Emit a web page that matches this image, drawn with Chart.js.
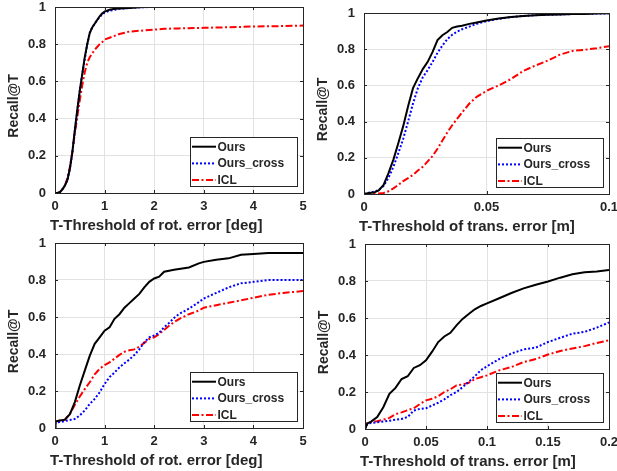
<!DOCTYPE html>
<html>
<head>
<meta charset="utf-8">
<script src="https://cdn.jsdelivr.net/npm/chart.js@4.4.1/dist/chart.umd.min.js"></script>
<style>
  html, body { margin: 0; padding: 0; background: #fff; }
  body { width: 617px; height: 471px; position: relative; overflow: hidden; }
  canvas { position: absolute; }
</style>
</head>
<body>
<canvas id="topRot" width="310" height="235" style="left:0;top:0"></canvas>
<canvas id="topTrans" width="307" height="235" style="left:310px;top:0"></canvas>
<canvas id="botRot" width="310" height="236" style="left:0;top:235px"></canvas>
<canvas id="botTrans" width="307" height="236" style="left:310px;top:235px"></canvas>
<script>
/* ── Data ── */
const seriesLabels = ['Ours', 'Ours_cross', 'ICL'];
const recallTicks = [0, 0.2, 0.4, 0.6, 0.8, 1];
const rotTicks = [0, 1, 2, 3, 4, 5];
const transTicksTop = [0, 0.05, 0.1];
const transTicksBot = [0, 0.05, 0.1, 0.15, 0.2];

// top-left: rotation error
const topRotX     = [0,0.05,0.1,0.15,0.2,0.25,0.3,0.35,0.4,0.45,0.5,0.55,0.6,0.65,0.7,0.75,0.8,0.85,0.9,0.95,1.0,1.1,1.2,1.3,1.5,1.7,1.8,2.0,2.2,2.5,3.0,3.5,4.0,4.5,5.0];
const topRotOurs  = [0,0,0.005,0.02,0.04,0.07,0.13,0.22,0.34,0.45,0.55,0.64,0.73,0.8,0.86,0.89,0.91,0.93,0.95,0.965,0.975,0.985,0.99,0.992,0.995,0.998,1,1,1,1,1,1,1,1,1];
const topRotCross = [0,0,0.005,0.02,0.04,0.07,0.13,0.22,0.33,0.44,0.55,0.64,0.72,0.8,0.86,0.89,0.91,0.93,0.945,0.96,0.97,0.98,0.985,0.99,0.995,0.998,0.999,1,1,1,1,1,1,1,1];
const topRotIcl   = [0,0,0.005,0.02,0.04,0.08,0.14,0.22,0.32,0.41,0.5,0.58,0.65,0.7,0.73,0.75,0.77,0.785,0.8,0.81,0.825,0.835,0.845,0.855,0.868,0.872,0.874,0.878,0.883,0.885,0.888,0.891,0.895,0.897,0.9];

// top-right: translation error
const topTransX     = [0,0.002,0.004,0.006,0.008,0.01,0.012,0.014,0.016,0.018,0.02,0.022,0.024,0.026,0.028,0.03,0.032,0.034,0.036,0.038,0.04,0.043,0.046,0.05,0.055,0.06,0.065,0.07,0.075,0.08,0.085,0.09,0.095,0.1];
const topTransOurs  = [0,0.005,0.008,0.02,0.05,0.115,0.19,0.28,0.375,0.485,0.585,0.64,0.69,0.73,0.785,0.85,0.877,0.895,0.918,0.925,0.93,0.94,0.948,0.958,0.97,0.978,0.984,0.988,0.99,0.992,0.994,0.995,0.997,0.998];
const topTransCross = [0,0.007,0.012,0.022,0.045,0.09,0.15,0.225,0.305,0.4,0.5,0.585,0.645,0.685,0.73,0.78,0.82,0.855,0.88,0.897,0.91,0.925,0.94,0.955,0.968,0.977,0.984,0.988,0.99,0.992,0.994,0.995,0.997,0.998];
const topTransIcl   = [0,0,0.001,0.003,0.006,0.015,0.031,0.05,0.071,0.088,0.105,0.13,0.15,0.18,0.21,0.25,0.295,0.34,0.38,0.415,0.45,0.5,0.537,0.57,0.6,0.635,0.68,0.71,0.737,0.77,0.79,0.797,0.805,0.817];

// bottom-left: rotation error
const botRotX     = [0,0.01,0.1,0.2,0.3,0.4,0.5,0.6,0.7,0.8,0.9,1.0,1.1,1.2,1.3,1.4,1.5,1.6,1.7,1.8,1.9,2.0,2.1,2.2,2.3,2.4,2.5,2.7,2.9,3.0,3.25,3.5,3.75,4.0,4.3,4.6,5.0];
const botRotOurs  = [0,0.035,0.04,0.045,0.075,0.14,0.23,0.31,0.39,0.455,0.49,0.526,0.544,0.59,0.615,0.65,0.675,0.7,0.725,0.76,0.79,0.808,0.818,0.845,0.85,0.855,0.86,0.868,0.89,0.898,0.91,0.917,0.936,0.94,0.946,0.946,0.946];
const botRotCross = [0,0.03,0.032,0.038,0.043,0.049,0.068,0.095,0.13,0.157,0.193,0.238,0.275,0.3,0.328,0.35,0.37,0.395,0.425,0.463,0.49,0.5,0.515,0.545,0.568,0.595,0.616,0.645,0.68,0.7,0.73,0.76,0.782,0.79,0.8,0.8,0.8];
const botRotIcl   = [0,0.035,0.04,0.045,0.076,0.125,0.17,0.21,0.247,0.29,0.32,0.34,0.355,0.375,0.395,0.412,0.42,0.425,0.44,0.46,0.481,0.49,0.508,0.53,0.553,0.572,0.589,0.615,0.635,0.65,0.664,0.677,0.69,0.704,0.72,0.73,0.74];

// bottom-right: translation error
const botTransX     = [0,0.002,0.005,0.01,0.015,0.02,0.025,0.03,0.035,0.04,0.045,0.05,0.055,0.06,0.065,0.07,0.075,0.08,0.085,0.09,0.095,0.1,0.11,0.12,0.13,0.14,0.15,0.16,0.17,0.18,0.19,0.2];
const botTransOurs  = [0,0.03,0.04,0.065,0.118,0.19,0.222,0.27,0.285,0.33,0.345,0.371,0.418,0.47,0.5,0.52,0.56,0.595,0.622,0.647,0.665,0.679,0.707,0.735,0.76,0.78,0.797,0.818,0.836,0.847,0.851,0.86];
const botTransCross = [0,0.03,0.033,0.036,0.04,0.045,0.05,0.054,0.065,0.1,0.109,0.112,0.127,0.142,0.16,0.183,0.2,0.226,0.255,0.285,0.318,0.339,0.378,0.408,0.43,0.44,0.47,0.493,0.515,0.525,0.548,0.576];
const botTransIcl   = [0,0.036,0.038,0.042,0.05,0.06,0.08,0.09,0.102,0.112,0.135,0.155,0.163,0.177,0.2,0.215,0.236,0.241,0.25,0.27,0.28,0.29,0.317,0.335,0.362,0.378,0.403,0.422,0.435,0.448,0.465,0.48];

/* ── Styling ── */
const FONT = "'Liberation Sans', Arial, Helvetica, sans-serif";
const AXIS_COLOR = '#262626';
const GRID_COLOR = '#e2e2e2';
const LINE_STYLES = [
  { borderColor: '#000000', borderDash: [] },
  { borderColor: '#0000ff', borderDash: [2, 2] },
  { borderColor: '#ff0000', borderDash: [7, 2.5, 2, 2.5] }
];

/* MATLAB-like box, inward ticks, axis titles and legend */
const matlabFrame = {
  id: 'matlabFrame',
  afterDraw(chart, args, opts) {
    const { ctx, chartArea: a, scales } = chart;
    ctx.save();
    ctx.strokeStyle = AXIS_COLOR;
    ctx.lineWidth = 1;
    ctx.setLineDash([]);
    ctx.strokeRect(a.left + 0.5, a.top + 0.5, a.right - a.left, a.bottom - a.top);

    // inward tick marks
    ctx.beginPath();
    opts.xTicks.forEach(v => {
      const px = Math.round(scales.x.getPixelForValue(v)) + 0.5;
      ctx.moveTo(px, a.bottom); ctx.lineTo(px, a.bottom - 3);
      ctx.moveTo(px, a.top); ctx.lineTo(px, a.top + 3);
    });
    recallTicks.forEach(v => {
      const py = Math.round(scales.y.getPixelForValue(v)) + 0.5;
      ctx.moveTo(a.left, py); ctx.lineTo(a.left + 3, py);
      ctx.moveTo(a.right, py); ctx.lineTo(a.right - 3, py);
    });
    ctx.stroke();

    // axis titles
    ctx.fillStyle = AXIS_COLOR;
    ctx.font = `bold 15px ${FONT}`;
    ctx.textAlign = 'left';
    ctx.textBaseline = 'alphabetic';
    ctx.fillText(opts.xTitle, a.left - 5, a.bottom + 36.5);

    ctx.save();
    ctx.translate(a.left - 41, (a.top + a.bottom) / 2 + 6);
    ctx.rotate(-Math.PI / 2);
    ctx.font = `bold 14px ${FONT}`;
    ctx.textAlign = 'center';
    ctx.textBaseline = 'middle';
    ctx.fillText('Recall@T', 0, 0);
    ctx.restore();

    // legend box, lower right
    const bw = 107, bh = 49;
    const bx = Math.round(a.right - 6 - bw), by = Math.round(a.bottom - 7 - bh);
    ctx.fillStyle = '#fff';
    ctx.fillRect(bx, by, bw, bh);
    ctx.strokeStyle = AXIS_COLOR;
    ctx.strokeRect(bx + 0.5, by + 0.5, bw, bh);
    ctx.font = `bold 12px ${FONT}`;
    ctx.textAlign = 'left';
    ctx.textBaseline = 'middle';
    chart.data.datasets.forEach((ds, i) => {
      const ry = by + 9.7 + i * 16.7;
      ctx.strokeStyle = ds.borderColor;
      ctx.lineWidth = 2;
      ctx.setLineDash(ds.borderDash);
      ctx.beginPath();
      ctx.moveTo(bx + 2, ry); ctx.lineTo(bx + 26, ry);
      ctx.stroke();
      ctx.fillStyle = AXIS_COLOR;
      ctx.fillText(ds.label, bx + 27.5, ry + 0.5);
    });
    ctx.restore();
  }
};

function makePanel(id, xs, ys, xMax, xTicks, xTitle, box) {
  const ctx = document.getElementById(id);
  const tickFont = { family: FONT, size: 13, weight: 'bold' };
  return new Chart(ctx, {
    type: 'line',
    data: {
      datasets: ys.map((arr, i) => ({
        label: seriesLabels[i],
        data: arr.map((y, j) => ({ x: xs[j], y })),
        borderColor: LINE_STYLES[i].borderColor,
        borderDash: LINE_STYLES[i].borderDash,
        borderWidth: 2, pointRadius: 0, tension: 0, fill: false
      }))
    },
    options: {
      responsive: false, animation: false, devicePixelRatio: 1,
      layout: { padding: { left: 0, top: box.top, right: box.right, bottom: 0 } },
      plugins: {
        legend: { display: false }, tooltip: { enabled: false },
        matlabFrame: { xTicks, xTitle }
      },
      scales: {
        x: {
          type: 'linear', min: 0, max: xMax,
          afterBuildTicks: s => { s.ticks = xTicks.map(v => ({ value: v })); },
          afterFit: s => { s.height = box.xHeight; s.paddingLeft = 0; s.paddingRight = 0; },
          ticks: { font: tickFont, color: AXIS_COLOR, padding: 6, maxRotation: 0, autoSkip: false, callback: v => String(v) },
          grid: { color: GRID_COLOR, drawTicks: false },
          border: { display: false }
        },
        y: {
          type: 'linear', min: 0, max: 1,
          afterBuildTicks: s => { s.ticks = recallTicks.map(v => ({ value: v })); },
          afterFit: s => { s.width = box.yWidth; s.paddingTop = 0; s.paddingBottom = 0; },
          ticks: { font: tickFont, color: AXIS_COLOR, padding: 9, callback: v => String(v) },
          grid: { color: GRID_COLOR, drawTicks: false },
          border: { display: false }
        }
      }
    },
    plugins: [matlabFrame]
  });
}

makePanel('topRot', topRotX, [topRotOurs, topRotCross, topRotIcl], 5, rotTicks,
  'T-Threshold of rot. error [deg]', { top: 7, right: 7, yWidth: 55, xHeight: 42 });
makePanel('topTrans', topTransX, [topTransOurs, topTransCross, topTransIcl], 0.1, transTicksTop,
  'T-Threshold of trans. error [m]', { top: 13, right: 8, yWidth: 54, xHeight: 41 });
makePanel('botRot', botRotX, [botRotOurs, botRotCross, botRotIcl], 5, rotTicks,
  'T-Threshold of rot. error [deg]', { top: 8, right: 7, yWidth: 55, xHeight: 43 });
makePanel('botTrans', botTransX, [botTransOurs, botTransCross, botTransIcl], 0.2, transTicksBot,
  'T-Threshold of trans. error [m]', { top: 9, right: 8, yWidth: 55, xHeight: 42 });
</script>
</body>
</html>
